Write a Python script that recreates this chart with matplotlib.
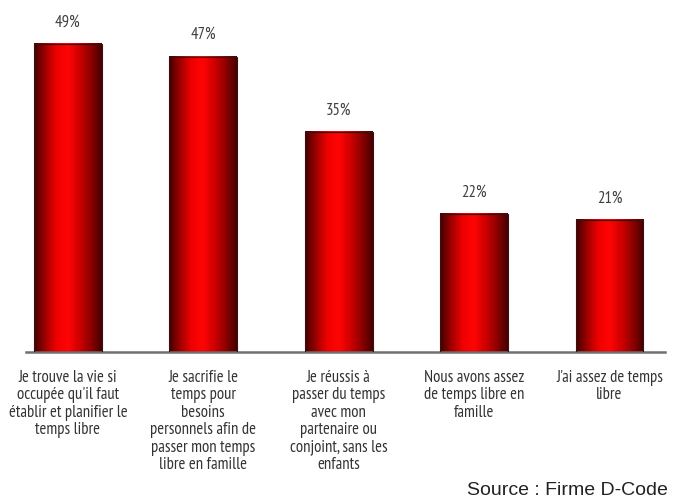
import numpy as np
import matplotlib.pyplot as plt
from matplotlib.colors import LinearSegmentedColormap

# Data
categories = [
    "Je trouve la vie si\noccupée qu'il faut\nétablir et planifier le\ntemps libre",
    "Je sacrifie le\ntemps pour\nbesoins\npersonnels afin de\npasser mon temps\nlibre en famille",
    "Je réussis à\npasser du temps\navec mon\npartenaire ou\nconjoint, sans les\nenfants",
    "Nous avons assez\nde temps libre en\nfamille",
    "J'ai assez de temps\nlibre",
]
values = [49, 47, 35, 22, 21]

FONT = ['PT Sans Narrow', 'DejaVu Sans']

fig = plt.figure(figsize=(6.8, 5.01), dpi=100)
ax = fig.add_axes([0.038, 0.297, 0.94, 0.703])

x = np.arange(len(values))
bars = ax.bar(x, values, width=0.5, facecolor='none', edgecolor='#3a1010',
              linewidth=0.8, zorder=3)

# cylinder-like shading: dark edges, bright centre
cmap = LinearSegmentedColormap.from_list(
    'cyl', ['#400000', '#a00000', '#f00000', '#ff0505', '#d00000', '#900000', '#450000'])
grad = np.linspace(0, 1, 256).reshape(1, -1)
for b in bars:
    bx, bw, bh = b.get_x(), b.get_width(), b.get_height()
    ax.imshow(grad, cmap=cmap, extent=[bx, bx + bw, 0, bh],
              aspect='auto', zorder=2, interpolation='bicubic')
    ax.text(bx + bw / 2, bh + 3.4, f"{int(bh)}%", ha='center', va='center',
            fontsize=12, color='#404040', family=FONT)

ax.set_xlim(-0.31, 4.41)
ax.set_ylim(0, 56)

for s in ['top', 'right', 'left']:
    ax.spines[s].set_visible(False)
ax.spines['bottom'].set_color('#707070')
ax.spines['bottom'].set_linewidth(1.8)
ax.set_yticks([])
ax.set_xticks([])

for xi, lab in zip(x, categories):
    ax.text(xi, -2.8, lab, ha='center', va='top', fontsize=12,
            color='#333333', family=FONT, linespacing=1.12)

fig.text(0.982, 0.012, "Source : Firme D-Code", ha='right', va='baseline',
         fontsize=14, color='#222222', family=['Liberation Sans', 'DejaVu Sans'])

fig.savefig('out.png', dpi=100)
